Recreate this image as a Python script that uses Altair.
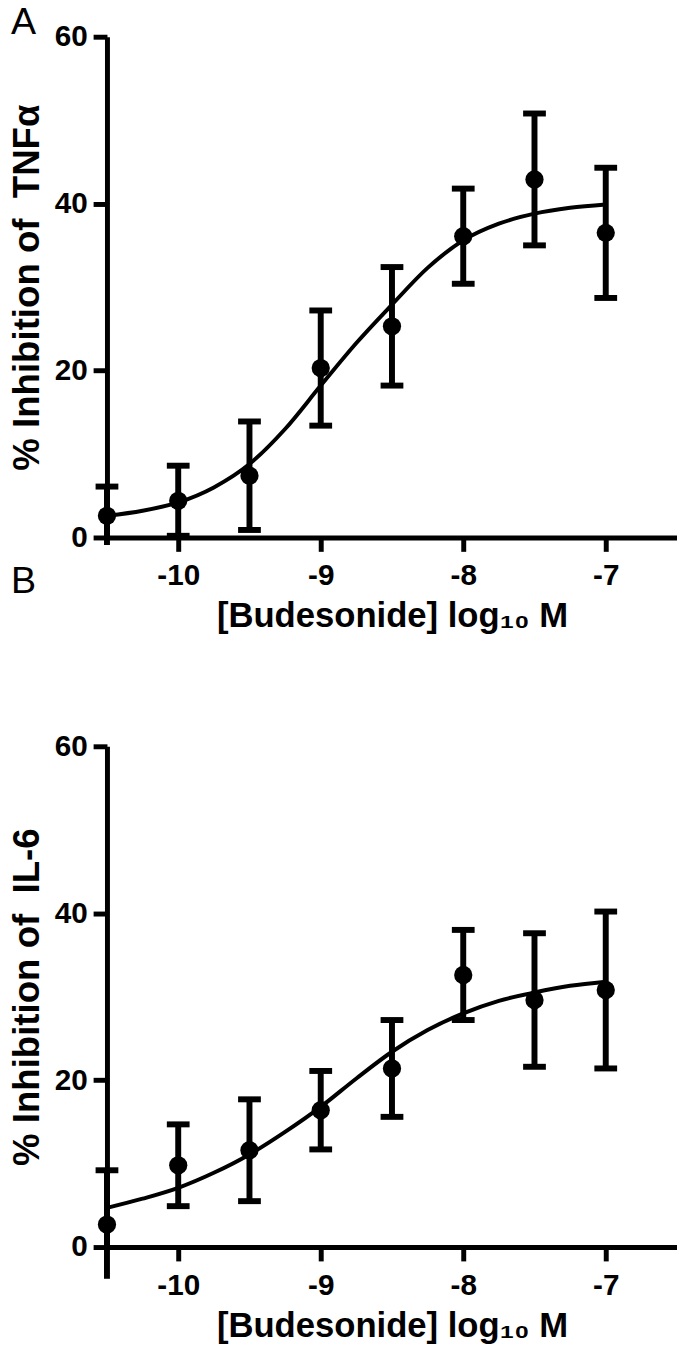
import altair as alt
import pandas as pd

# Concentrations (log10 M)
x_conc = [-10.5, -10.0, -9.5, -9.0, -8.5, -8.0, -7.5, -7.0]

# Panel A: % inhibition of TNFα (mean ± error)
tnf_mean = [2.6, 4.4, 7.4, 20.3, 25.3, 36.1, 42.9, 36.5]
tnf_err = [3.5, 4.2, 6.5, 6.9, 7.1, 5.7, 7.9, 7.8]

# Panel B: % inhibition of IL-6 (mean ± error)
il6_mean = [2.7, 9.8, 11.6, 16.4, 21.4, 32.6, 29.6, 30.8]
il6_err = [6.5, 4.9, 6.1, 4.7, 5.8, 5.4, 8.0, 9.4]

# Fitted curves
fit_x = [-10.5, -10.25, -10.0, -9.75, -9.5, -9.25, -9.0, -8.75,
         -8.5, -8.25, -8.0, -7.75, -7.5, -7.25, -7.0]
tnf_fit = [2.6, 3.2, 4.2, 6.0, 8.8, 13.0, 18.2, 23.3,
           27.9, 32.3, 35.6, 37.6, 38.8, 39.5, 39.9]
il6_fit = [4.7, 5.8, 7.1, 8.9, 11.1, 13.8, 16.8, 20.2,
           23.4, 26.0, 28.0, 29.5, 30.5, 31.3, 31.8]

x_ticks = [-10, -9, -8, -7]
y_ticks = [0, 20, 40, 60]
x_title = "[Budesonide] log\u2081\u2080 M"

FONT = "Liberation Sans"
W, H = 576, 506


def xenc(field):
    return alt.X(
        f"{field}:Q",
        scale=alt.Scale(domain=[-10.5, -6.5], nice=False, zero=False),
        axis=alt.Axis(values=x_ticks, title=x_title, labelExpr="'' + datum.value",
                      titlePadding=8, labelPadding=10, titleFontSize=35),
    )


def yenc(field, title):
    return alt.Y(
        f"{field}:Q",
        scale=alt.Scale(domain=[0, 60], nice=False, zero=False),
        axis=alt.Axis(values=y_ticks, title=title, titlePadding=8,
                      titleFontSize=37),
    )


def panel(means, errs, fit, ytitle, letters):
    df = pd.DataFrame({
        "x": x_conc,
        "mean": means,
        "lo": [m - e for m, e in zip(means, errs)],
        "hi": [m + e for m, e in zip(means, errs)],
    })
    caps = pd.concat([
        df[["x", "hi"]].rename(columns={"hi": "v"}),
        df[df["lo"] >= 0][["x", "lo"]].rename(columns={"lo": "v"}),
    ])
    fitdf = pd.DataFrame({"x": fit_x, "y": fit})

    rules = alt.Chart(df).mark_rule(color="black", strokeWidth=6).encode(
        x=xenc("x"), y=yenc("lo", ytitle), y2="hi:Q"
    )
    capm = alt.Chart(caps).mark_tick(
        color="black", orient="horizontal", size=23, thickness=6, opacity=1
    ).encode(x=xenc("x"), y=yenc("v", ytitle))
    pts = alt.Chart(df).mark_point(
        filled=True, color="black", size=340, opacity=1, shape="circle"
    ).encode(x=xenc("x"), y=yenc("mean", ytitle))
    line = alt.Chart(fitdf).mark_line(
        color="black", strokeWidth=4, interpolate="monotone"
    ).encode(x=xenc("x"), y=yenc("y", ytitle))

    layers = [rules, capm, line, pts]
    for letter, ly in letters:
        t = alt.Chart(pd.DataFrame({"t": [letter]})).mark_text(
            font=FONT, fontSize=38, align="left", baseline="alphabetic",
            color="black"
        ).encode(text="t:N", x=alt.value(-97), y=alt.value(ly))
        layers.append(t)
    return alt.layer(*layers).properties(width=W, height=H)


panelA = panel(tnf_mean, tnf_err, tnf_fit, "% Inhibition of \u00a0TNF\u03b1",
               [("A", -3), ("B", 562)])
panelB = panel(il6_mean, il6_err, il6_fit, "% Inhibition of \u00a0IL-6", [])

chart = alt.vconcat(panelA, panelB, spacing=99).properties(
    padding={"left": 0, "top": -11, "right": 0, "bottom": 0}
).configure_view(strokeWidth=0).configure_axis(
    domainColor="black", domainWidth=5, tickColor="black", tickWidth=5,
    tickSize=14, grid=False, labelFont=FONT, labelFontSize=30,
    labelFontWeight="bold", labelColor="black", labelPadding=6,
    titleFont=FONT, titleFontSize=34, titleFontWeight="bold", titleColor="black",
)

chart.save("out.html", embed_options={"renderer": "svg", "actions": False})
